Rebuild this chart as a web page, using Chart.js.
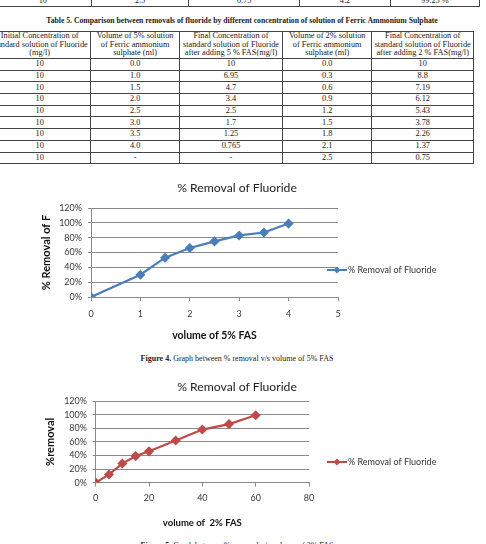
<!DOCTYPE html>
<html>
<head>
<meta charset="utf-8">
<script src="https://cdn.jsdelivr.net/npm/chart.js@4"></script>
<style>
  html, body { margin: 0; padding: 0; background: #fff; }
  body { width: 486px; height: 544px; position: relative; overflow: hidden; }
  .tbl { position: absolute; border-collapse: collapse; table-layout: fixed;
         font-family: 'Liberation Serif', serif; font-size: 8.3px; color: #222; }
  .tbl td { border: 1px solid #444; padding: 0; text-align: center; white-space: nowrap; overflow: hidden; }
  .tbl tr.head td { line-height: 8.5px; height: 26px; }
  .tbl tr.row td { height: 10.7px; line-height: 10px; }
  .cap { position: absolute; left: 0; width: 486px; text-align: center;
         font-family: 'Liberation Serif', serif; color: #222; white-space: nowrap; }
  canvas { position: absolute; left: 0; }
</style>
</head>
<body>
<table class="tbl" id="prevTable" style="left:-6px; top:-6px;"></table>
<div class="cap" style="top:16px; font-size:7.7px; font-weight:bold; left:-1px;">Table 5. Comparison between removals of fluoride by different concentration of solution of Ferric Ammonium Sulphate</div>
<table class="tbl" id="table5" style="left:-12px; top:31px;"></table>

<canvas id="chart5" width="486" height="166" style="top:178px;"></canvas>
<div class="cap" style="top:354px; font-size:8px; left:-6px;"><b>Figure 4.</b> Graph between % removal v/s volume of 5% FAS</div>

<canvas id="chart2" width="486" height="154" style="top:378px;"></canvas>
<div class="cap" style="top:541px; font-size:8px; left:-6px;"><b>Figure 5.</b> Graph between % removal v/s volume of 2% FAS</div>

<script>
// last row of the previous table (cut at the top of the page)
const prevRow = ["10", "2.5", "0.75", "4.2", "99.25 %"];

// Table 5
const table5Head = [
  "Initial Concentration of<br>standard solution of Fluoride<br>(mg/l)",
  "Volume of 5% solution<br>of Ferric ammonium<br>sulphate (ml)",
  "Final Concentration of<br>standard solution of Fluoride<br>after adding 5 % FAS(mg/l)",
  "Volume of 2% solution<br>of Ferric ammonium<br>sulphate (ml)",
  "Final Concentration of<br>standard solution of Fluoride<br>after adding 2 % FAS(mg/l)"
];
const initialConc = ["10", "10", "10", "10", "10", "10", "10", "10", "10"];
const vol5 = ["0.0", "1.0", "1.5", "2.0", "2.5", "3.0", "3.5", "4.0", "-"];
const final5 = ["10", "6.95", "4.7", "3.4", "2.5", "1.7", "1.25", "0.765", "-"];
const vol2 = ["0.0", "0.3", "0.6", "0.9", "1.2", "1.5", "1.8", "2.1", "2.5"];
const final2 = ["10", "8.8", "7.19", "6.12", "5.43", "3.78", "2.26", "1.37", "0.75"];

// chart data
const fas5Volume = [0, 1, 1.5, 2, 2.5, 3, 3.5, 4];
const removal5 = [0, 30, 53, 66, 75, 83, 87, 99];
const fas2Volume = [0, 5, 10, 15, 20, 30, 40, 50, 60];
const removal2 = [0, 12, 28, 39, 46, 62, 78, 86, 99];

// build the tables
function colgroup(widths) {
  return "<colgroup>" + widths.map(w => `<col style="width:${w}px">`).join("") + "</colgroup>";
}
document.getElementById("prevTable").innerHTML =
  colgroup([98, 99, 112, 92, 90]) +
  `<tr class="row"><td style="height:11px">${prevRow.join('</td><td style="height:11px">')}</td></tr>`;

let html = colgroup([104, 92, 105, 93, 103]);
html += `<tr class="head"><td>${table5Head.join("</td><td>")}</td></tr>`;
initialConc.forEach((c, i) => {
  html += `<tr class="row"><td>${c}</td><td>${vol5[i]}</td><td>${final5[i]}</td><td>${vol2[i]}</td><td>${final2[i]}</td></tr>`;
});
document.getElementById("table5").innerHTML = html;

// Excel-like title (centred on the whole chart) and legend on the right
const excelBits = {
  id: "excelBits",
  afterDraw(chart, args, opts) {
    const ctx = chart.ctx;
    const ds = chart.data.datasets[0];
    ctx.save();
    ctx.fillStyle = "#222";
    ctx.font = "12.2px Lato";
    ctx.textAlign = "center";
    ctx.textBaseline = "middle";
    ctx.fillText(opts.title, opts.titleX, opts.titleY);

    const x = opts.x, y = opts.y;
    ctx.strokeStyle = ds.borderColor;
    ctx.lineWidth = 2;
    ctx.beginPath();
    ctx.moveTo(x, y);
    ctx.lineTo(x + 20, y);
    ctx.stroke();
    ctx.fillStyle = ds.borderColor;
    ctx.beginPath();
    ctx.moveTo(x + 10, y - 3.5);
    ctx.lineTo(x + 13.5, y);
    ctx.lineTo(x + 10, y + 3.5);
    ctx.lineTo(x + 6.5, y);
    ctx.closePath();
    ctx.fill();
    ctx.fillStyle = "#333";
    ctx.font = "9px Lato";
    ctx.textAlign = "left";
    ctx.fillText(ds.label, x + 21, y + 0.5);
    ctx.restore();
  }
};

const gridGrey = "#8a8a8a";
const textGrey = "#3a3a3a";

function makeChart(id, xs, ys, color, cfg) {
  return new Chart(document.getElementById(id), {
    type: "line",
    data: {
      datasets: [{
        label: "% Removal of Fluoride",
        data: xs.map((x, i) => ({ x, y: ys[i] })),
        borderColor: color,
        backgroundColor: color,
        borderWidth: 2.2,
        pointStyle: "rectRot",
        pointRadius: 3.5,
        tension: 0
      }]
    },
    options: {
      responsive: false,
      animation: false,
      devicePixelRatio: 1,
      layout: { padding: cfg.padding },
      plugins: {
        legend: { display: false },
        tooltip: { enabled: false },
        excelBits: { title: "% Removal of Fluoride", titleX: 237, titleY: cfg.titleY, x: 327, y: cfg.legendY }
      },
      scales: {
        x: {
          type: "linear",
          min: 0,
          max: cfg.xMax,
          ticks: { stepSize: cfg.xStep, autoSkip: false, color: textGrey, font: { family: "Lato", size: 9 }, padding: cfg.xTickPad },
          grid: { drawOnChartArea: false, drawTicks: true, tickLength: 4, color: gridGrey },
          border: { color: gridGrey },
          title: {
            display: true,
            text: cfg.xTitle,
            color: "#111",
            font: { family: "Lato", size: cfg.xTitleSize, weight: "bold" },
            padding: { top: cfg.xTitlePad, bottom: 0 }
          }
        },
        y: {
          min: 0,
          max: 120,
          ticks: { stepSize: 20, autoSkip: false, color: textGrey, font: { family: "Lato", size: 9 }, padding: cfg.yTickPad,
                   callback: v => v + "%" },
          grid: { color: gridGrey, drawTicks: true, tickLength: 3 },
          border: { color: gridGrey },
          title: {
            display: true,
            text: cfg.yTitle,
            color: "#111",
            font: { family: "Lato", size: 11, weight: "bold" },
            padding: { top: cfg.yTitlePad, bottom: 0 }
          },
          afterFit: s => { s.width = cfg.yWidth; }
        }
      }
    },
    plugins: [excelBits]
  });
}

makeChart("chart5", fas5Volume, removal5, "#4a7ebb", {
  padding: { left: 30, right: 148, top: 30, bottom: 2.4 },
  titleY: 10,
  legendY: 92,
  xMax: 5, xStep: 1, xTickPad: 7.6,
  xTitle: "volume of 5% FAS", xTitleSize: 10.5, xTitlePad: 2,
  yTitle: "% Removal of F", yTitlePad: 9.4, yTickPad: 6, yWidth: 61
});

makeChart("chart2", fas2Volume, removal2, "#be4b48", {
  padding: { left: 30, right: 177, top: 23, bottom: 3.4 },
  titleY: 9,
  legendY: 84,
  xMax: 80, xStep: 20, xTickPad: 5.9,
  xTitle: "volume of  2% FAS", xTitleSize: 9.5, xTitlePad: 8,
  yTitle: "%removal", yTitlePad: 13.4, yTickPad: 5.7, yWidth: 65.7
});
</script>
</body>
</html>
